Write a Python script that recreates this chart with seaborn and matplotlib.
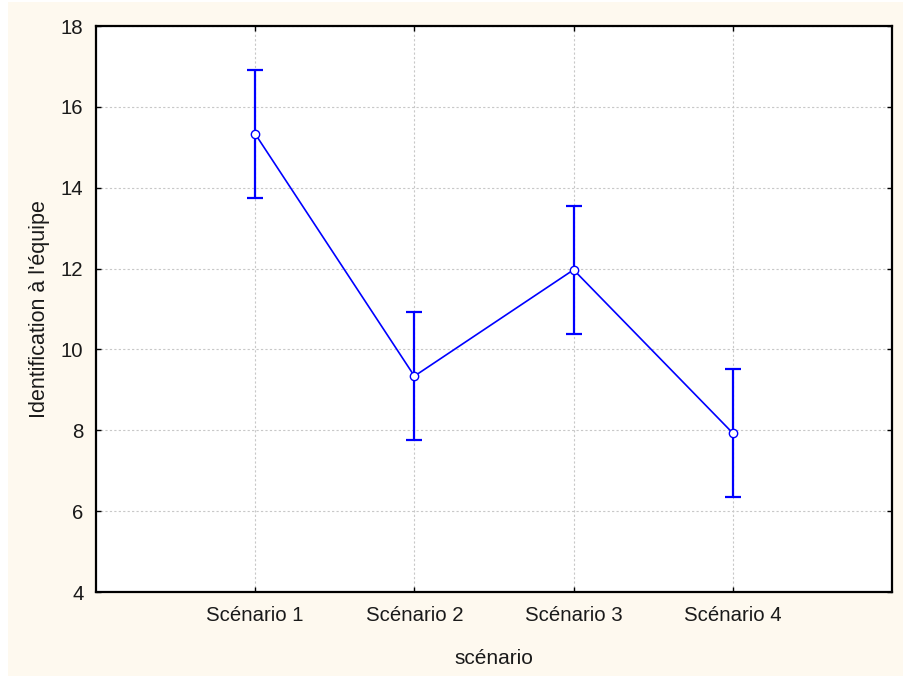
import matplotlib
matplotlib.use("Agg")
import matplotlib.pyplot as plt
import seaborn as sns
import numpy as np
from matplotlib.patches import Rectangle

scenarios = ["Scénario 1", "Scénario 2", "Scénario 3", "Scénario 4"]
means = [15.33, 9.34, 11.97, 7.93]
ci_half = [1.59, 1.59, 1.59, 1.59]
y_ticks = [4, 6, 8, 10, 12, 14, 16, 18]

sns.set_theme(style="white")
plt.rcParams['font.family'] = ['Liberation Sans', 'DejaVu Sans']

fig = plt.figure(figsize=(9.04, 6.76), dpi=100, facecolor="white")
cream = "#FEF9EF"
fig.patches.append(Rectangle((8 / 904, 0), 1 - 8 / 904, 1 - 2 / 676,
                             transform=fig.transFigure, facecolor=cream,
                             edgecolor="none", zorder=-10))
ax = fig.add_axes([96 / 904, 1 - 592 / 676, (892 - 96) / 904, (592 - 26) / 676])
ax.set_facecolor("white")

pos = np.arange(len(scenarios))
ax.errorbar(pos, means, yerr=ci_half, fmt="none", ecolor="#0000FF",
            elinewidth=1.6, capsize=5.5, capthick=1.6, zorder=3)
sns.pointplot(x=scenarios, y=means, errorbar=None, color="#0000FF",
              markers="o", linestyles="-", ax=ax, linewidth=1.2,
              markersize=6, markerfacecolor="white", markeredgecolor="#0000FF",
              markeredgewidth=1.0, zorder=4)

ax.set_xlim(-1, 4)
ax.set_ylim(4, 18)
ax.set_yticks(y_ticks)
ax.set_xticks(pos)
ax.set_xticklabels(scenarios)

ax.grid(True, linestyle=(0, (2, 2)), color="#C8C8C8", linewidth=0.8)
ax.set_axisbelow(True)
for s in ax.spines.values():
    s.set_visible(True)
    s.set_color("black")
    s.set_linewidth(1.6)

ax.tick_params(axis="both", which="both", direction="in", length=3.5, width=1.0,
               colors="black", labelsize=14.7, top=True, right=True,
               bottom=True, left=True)
ax.tick_params(axis="x", pad=10)
ax.tick_params(axis="y", pad=9)
for lab in ax.get_xticklabels() + ax.get_yticklabels():
    lab.set_color("#1a1a1a")

ax.set_xlabel("scénario", fontsize=15, color="#1a1a1a", labelpad=17)
ax.set_ylabel("Identification à l'équipe", fontsize=15.5, color="#1a1a1a", labelpad=8)

fig.savefig("out.png", dpi=100, facecolor="white")
